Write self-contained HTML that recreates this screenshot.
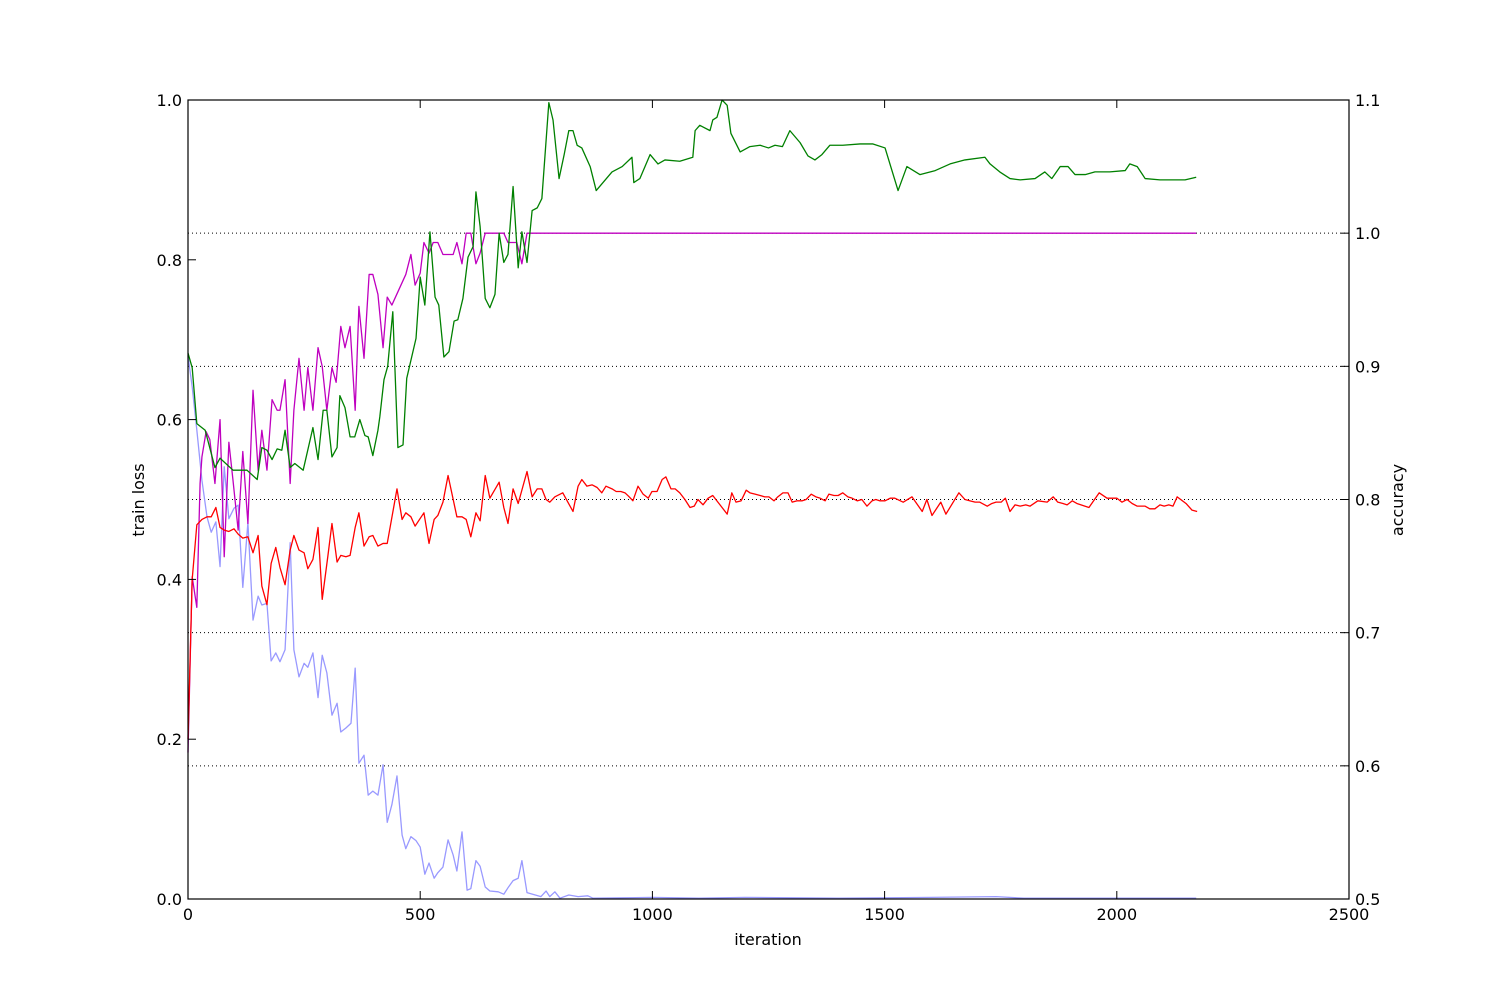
<!DOCTYPE html>
<html><head><meta charset="utf-8"><style>
html,body{margin:0;padding:0;background:#fff;}
svg text{font-family:"DejaVu Sans","Liberation Sans",sans-serif;font-size:16px;fill:#000;}
</style></head><body>
<svg id="chart" width="1500" height="1000" xmlns="http://www.w3.org/2000/svg">
<rect x="0" y="0" width="1500" height="1000" fill="#fff"/>
<g id="grid"></g>
<g id="series"></g>
<rect x="188" y="100" width="1161" height="799" fill="none" stroke="#000" stroke-width="1.2"/>
<g id="ticks"></g>
<text x="768" y="945" text-anchor="middle">iteration</text>
<text x="144" y="500" text-anchor="middle" transform="rotate(-90 144 500)">train loss</text>
<text x="1403" y="500" text-anchor="middle" transform="rotate(-90 1403 500)">accuracy</text>
</svg>
<script>
const xTicks=[0,500,1000,1500,2000,2500];
const leftTicks=[0.0,0.2,0.4,0.6,0.8,1.0];
const rightTicks=[0.5,0.6,0.7,0.8,0.9,1.0,1.1];
const gridTicks=[0.6,0.7,0.8,0.9,1.0];

const lossIter=[0,9,19,30,41,50,60,69,78,88,99,108,118,129,140,151,159,170,179,189,198,209,220,228,239,250,258,269,280,289,299,310,321,329,340,351,360,368,379,388,398,409,420,429,439,450,461,469,480,491,500,510,519,530,538,549,560,571,579,590,601,609,620,629,640,650,668,680,689,700,711,719,730,760,771,779,790,801,820,840,861,872,1000,1100,1200,1400,1600,1740,1800,2000,2171];
const lossVal=[0.68,0.641,0.587,0.524,0.478,0.459,0.472,0.416,0.541,0.476,0.489,0.493,0.390,0.471,0.349,0.379,0.368,0.370,0.298,0.308,0.297,0.312,0.446,0.312,0.278,0.295,0.290,0.308,0.252,0.305,0.283,0.230,0.245,0.209,0.214,0.220,0.289,0.170,0.180,0.130,0.135,0.130,0.168,0.096,0.118,0.154,0.080,0.063,0.078,0.073,0.065,0.031,0.045,0.026,0.033,0.040,0.074,0.055,0.035,0.084,0.011,0.013,0.048,0.041,0.015,0.010,0.009,0.006,0.014,0.023,0.026,0.048,0.008,0.003,0.010,0.003,0.009,0.001,0.005,0.003,0.004,0.001,0.002,0.001,0.002,0.001,0.002,0.003,0.001,0.001,0.001];

const greenIter=[0,9,19,37,58,69,97,127,149,159,170,181,192,202,209,220,230,248,269,280,291,299,310,321,327,338,349,359,370,381,388,398,409,413,422,430,441,452,463,471,491,500,510,521,532,540,551,562,573,581,592,603,614,620,629,640,650,661,670,680,689,700,711,719,730,741,752,762,777,786,799,810,820,829,838,848,866,879,913,935,956,960,973,995,1012,1027,1059,1087,1092,1102,1124,1130,1139,1150,1161,1169,1189,1210,1232,1250,1264,1280,1296,1318,1335,1350,1365,1382,1410,1447,1475,1501,1529,1548,1576,1609,1641,1673,1716,1727,1748,1770,1792,1824,1845,1860,1878,1895,1910,1932,1953,1985,2018,2028,2044,2061,2093,2125,2147,2171];
const greenVal=[0.910,0.899,0.857,0.852,0.824,0.831,0.822,0.822,0.815,0.839,0.837,0.830,0.838,0.837,0.852,0.824,0.827,0.822,0.854,0.830,0.867,0.867,0.832,0.839,0.878,0.869,0.847,0.847,0.860,0.848,0.847,0.833,0.852,0.862,0.890,0.900,0.941,0.839,0.841,0.891,0.921,0.967,0.946,1.001,0.952,0.946,0.907,0.911,0.934,0.935,0.951,0.982,0.990,1.031,1.005,0.951,0.944,0.954,1.000,0.978,0.984,1.035,0.974,1.001,0.978,1.017,1.019,1.026,1.098,1.085,1.041,1.059,1.077,1.077,1.066,1.064,1.050,1.032,1.046,1.050,1.057,1.038,1.041,1.059,1.052,1.055,1.054,1.057,1.077,1.081,1.077,1.085,1.087,1.100,1.096,1.075,1.061,1.065,1.066,1.064,1.066,1.065,1.077,1.068,1.058,1.055,1.059,1.066,1.066,1.067,1.067,1.064,1.032,1.050,1.044,1.047,1.052,1.055,1.057,1.052,1.046,1.041,1.040,1.041,1.046,1.041,1.050,1.050,1.044,1.044,1.046,1.046,1.047,1.052,1.050,1.041,1.040,1.040,1.040,1.042];

const magIter=[0,9,19,26,30,39,47,58,69,78,88,97,108,118,129,140,151,159,170,181,192,198,209,220,228,239,250,258,269,280,289,299,310,319,329,338,349,360,368,379,390,398,409,420,429,439,469,480,489,500,508,519,528,538,549,571,579,590,599,609,620,629,640,680,689,708,719,730,2171];
const magVal=[0.61,0.742,0.719,0.812,0.832,0.851,0.845,0.812,0.860,0.757,0.843,0.814,0.777,0.836,0.782,0.882,0.822,0.852,0.822,0.875,0.867,0.867,0.890,0.812,0.867,0.906,0.867,0.899,0.867,0.914,0.900,0.867,0.899,0.888,0.930,0.914,0.930,0.867,0.945,0.906,0.969,0.969,0.954,0.914,0.952,0.946,0.969,0.984,0.961,0.970,0.993,0.985,0.993,0.993,0.984,0.984,0.993,0.977,1.0,1.0,0.977,0.985,1.0,1.0,0.993,0.993,0.977,1.0,1.0];

const redIter=[0,9,19,30,41,50,60,69,78,88,99,108,118,129,140,151,159,170,179,189,198,209,220,228,239,250,258,269,280,289,301,310,321,329,340,349,360,368,379,390,398,409,420,429,450,461,469,480,489,508,519,530,538,549,560,579,590,599,609,620,629,640,650,670,680,689,700,711,730,741,752,762,771,779,790,807,818,829,840,848,859,870,881,891,900,913,922,932,941,950,958,969,980,991,999,1010,1021,1029,1040,1049,1059,1070,1081,1090,1098,1109,1120,1130,1141,1150,1161,1171,1180,1191,1202,1210,1221,1232,1242,1251,1262,1270,1281,1292,1301,1311,1322,1331,1342,1352,1361,1372,1380,1391,1400,1410,1421,1430,1441,1451,1462,1473,1481,1490,1501,1512,1522,1540,1559,1581,1591,1602,1621,1632,1660,1673,1684,1695,1705,1721,1731,1740,1751,1760,1770,1781,1792,1804,1813,1830,1850,1863,1873,1884,1893,1904,1914,1940,1962,1979,1990,2000,2011,2022,2033,2044,2061,2071,2082,2093,2102,2112,2121,2130,2149,2162,2173];
const redVal=[0.62,0.740,0.781,0.785,0.787,0.787,0.794,0.779,0.777,0.776,0.778,0.774,0.771,0.772,0.760,0.773,0.735,0.721,0.752,0.764,0.749,0.736,0.762,0.773,0.762,0.760,0.748,0.755,0.779,0.725,0.757,0.782,0.753,0.758,0.757,0.758,0.779,0.790,0.765,0.772,0.773,0.765,0.767,0.767,0.808,0.785,0.790,0.787,0.780,0.790,0.767,0.785,0.788,0.798,0.818,0.787,0.787,0.785,0.772,0.790,0.784,0.818,0.801,0.813,0.794,0.782,0.808,0.797,0.821,0.802,0.808,0.808,0.800,0.798,0.802,0.805,0.798,0.791,0.810,0.815,0.810,0.811,0.809,0.805,0.810,0.808,0.806,0.806,0.805,0.802,0.799,0.810,0.804,0.801,0.806,0.806,0.815,0.817,0.808,0.808,0.805,0.800,0.794,0.795,0.800,0.796,0.801,0.803,0.798,0.794,0.789,0.805,0.798,0.799,0.807,0.805,0.804,0.803,0.802,0.802,0.799,0.802,0.805,0.805,0.798,0.799,0.799,0.800,0.804,0.802,0.801,0.799,0.804,0.803,0.803,0.805,0.802,0.801,0.799,0.800,0.795,0.799,0.800,0.799,0.799,0.801,0.801,0.798,0.802,0.791,0.800,0.788,0.798,0.789,0.805,0.800,0.799,0.798,0.798,0.795,0.797,0.798,0.798,0.801,0.791,0.796,0.795,0.796,0.795,0.799,0.798,0.802,0.798,0.797,0.796,0.799,0.797,0.794,0.805,0.801,0.801,0.801,0.798,0.800,0.797,0.795,0.795,0.793,0.793,0.796,0.795,0.796,0.795,0.802,0.797,0.792,0.791];

const NS="http://www.w3.org/2000/svg";
const X0=188,X1=1349,Y0=899,Y1=100;
function xs(v){return X0+(v/2500)*(X1-X0);}
function yl(v){return Y0-(v/1.0)*(Y0-Y1);}
function yr(v){return Y0-((v-0.5)/0.6)*(Y0-Y1);}
function mk(tag,attrs,parent){const e=document.createElementNS(NS,tag);for(const k in attrs)e.setAttribute(k,attrs[k]);parent.appendChild(e);return e;}

const grid=document.getElementById('grid');
gridTicks.forEach(t=>{
  const l=mk('line',{x1:X0,x2:X1,y1:yr(t),y2:yr(t),stroke:'#000','stroke-width':1,'stroke-dasharray':'1,3'},grid);
  
  
});

const ticks=document.getElementById('ticks');
xTicks.forEach(t=>{
  const x=xs(t);
  mk('line',{x1:x,x2:x,y1:Y0,y2:Y0-8,stroke:'#000'},ticks);
  mk('line',{x1:x,x2:x,y1:Y1,y2:Y1+8,stroke:'#000'},ticks);
  const tx=mk('text',{x:x,y:Y0+21,'text-anchor':'middle'},ticks);
  tx.textContent=String(t);
  
  
});
leftTicks.forEach(t=>{
  const y=yl(t);
  mk('line',{x1:X0,x2:X0+8,y1:y,y2:y,stroke:'#000'},ticks);
  const tx=mk('text',{x:X0-6,y:y+6,'text-anchor':'end'},ticks);
  tx.textContent=t.toFixed(1);
  
  
});
rightTicks.forEach(t=>{
  const y=yr(t);
  mk('line',{x1:X1,x2:X1-8,y1:y,y2:y,stroke:'#000'},ticks);
  const tx=mk('text',{x:X1+6,y:y+6,'text-anchor':'start'},ticks);
  tx.textContent=t.toFixed(1);
  
  
});

const series=document.getElementById('series');
function drawLine(iters,vals,yf,color,name){
  const pts=iters.map((it,i)=>xs(it).toFixed(2)+','+yf(vals[i]).toFixed(2)).join(' ');
  const p=mk('polyline',{points:pts,fill:'none',stroke:color,'stroke-width':1.3,'stroke-linejoin':'round'},series);
  
  
}
drawLine(lossIter,lossVal,yl,'#9999ff','train-loss-line');
drawLine(magIter,magVal,yr,'#bf00bf','magenta-accuracy-line');
drawLine(greenIter,greenVal,yr,'#008000','green-accuracy-line');
drawLine(redIter,redVal,yr,'#ff0000','red-accuracy-line');
</script>
</body></html>
